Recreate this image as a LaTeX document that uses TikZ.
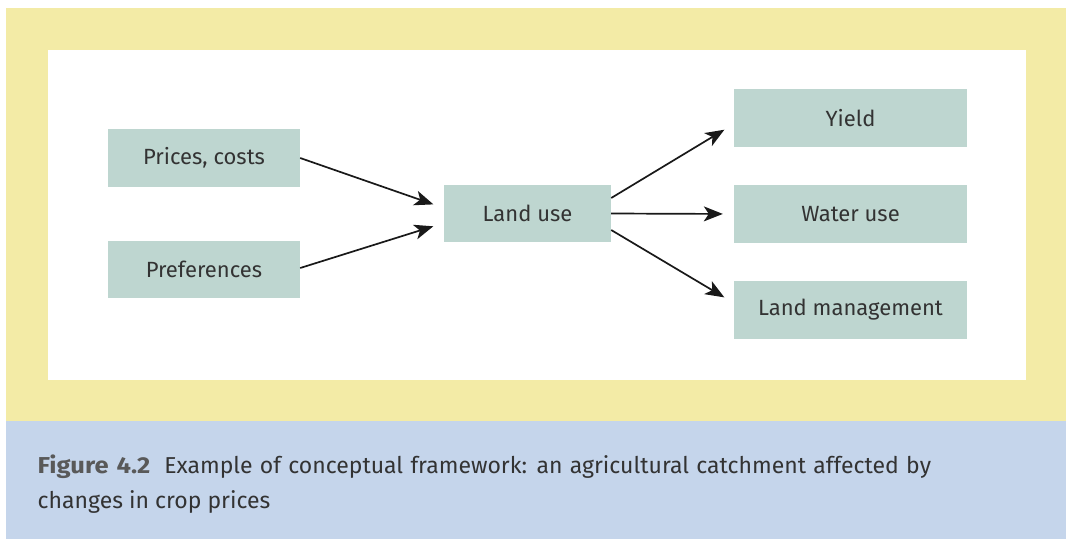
\documentclass[tikz,border=0pt]{standalone}
\usepackage{fontspec}
\usepackage{graphicx}
\setmainfont{Fira Sans}
\usetikzlibrary{arrows.meta}
\definecolor{ybg}{HTML}{F3EBA6}
\definecolor{bbg}{HTML}{C5D5EB}
\definecolor{boxf}{HTML}{BED6D0}
\definecolor{txt}{HTML}{333333}
\definecolor{figgray}{HTML}{595959}
\tikzset{
  fbox/.style={fill=boxf, draw=none, inner sep=0pt, text=txt, font=\fontsize{22}{24}\selectfont},
  arr/.style={-{Stealth[length=19pt,width=15pt,inset=5pt]}, line width=1.7pt, black!90, shorten >=11pt},
}
\begin{document}
\begin{tikzpicture}[x=1pt,y=-1pt]
\useasboundingbox (0,0) rectangle (1066,539);
\fill[white] (0,0) rectangle (1066,539);
\fill[ybg] (6,8) rectangle (1066,421);
\fill[white] (48,50) rectangle (1026,380);
\fill[bbg] (6,421) rectangle (1066,539);

\node[fbox, minimum width=192pt, minimum height=58pt] (pc) at (204,158) {Prices, costs};
\node[fbox, minimum width=192pt, minimum height=57pt] (pref) at (204,269.5) {Preferences};
\node[fbox, minimum width=167pt, minimum height=57pt] (lu) at (527.5,213.5) {Land use};
\node[fbox, minimum width=233pt, minimum height=58pt] (yi) at (850.5,118) {Yield};
\node[fbox, minimum width=233pt, minimum height=58pt] (wu) at (850.5,214) {Water use};
\node[fbox, minimum width=233pt, minimum height=58pt] (lm) at (850.5,310) {Land management};

\draw[arr] (pc.east) -- ([yshift=5.5pt]lu.west);
\draw[arr] ([yshift=1.5pt]pref.west -| pref.east) -- ([yshift=-9.5pt]lu.west);
\draw[arr] ([yshift=15.5pt]lu.east) -- ([yshift=-6pt]yi.west);
\draw[arr] (lu.east) -- (wu.west);
\draw[arr] ([yshift=-16.5pt]lu.east) -- ([yshift=7pt]lm.west);

\node[anchor=base west, inner sep=0pt, align=left, text=txt, font=\fontsize{23}{35}\selectfont] (cap) at (37.5,508)
  {\spaceskip=7.3pt plus 1pt minus 1pt{\bfseries\color{figgray}\scalebox{1.11}[1]{Figure 4.2}}\hspace{14pt}Example of conceptual framework: an agricultural catchment affected by\\changes in crop prices};
\end{tikzpicture}
\end{document}
